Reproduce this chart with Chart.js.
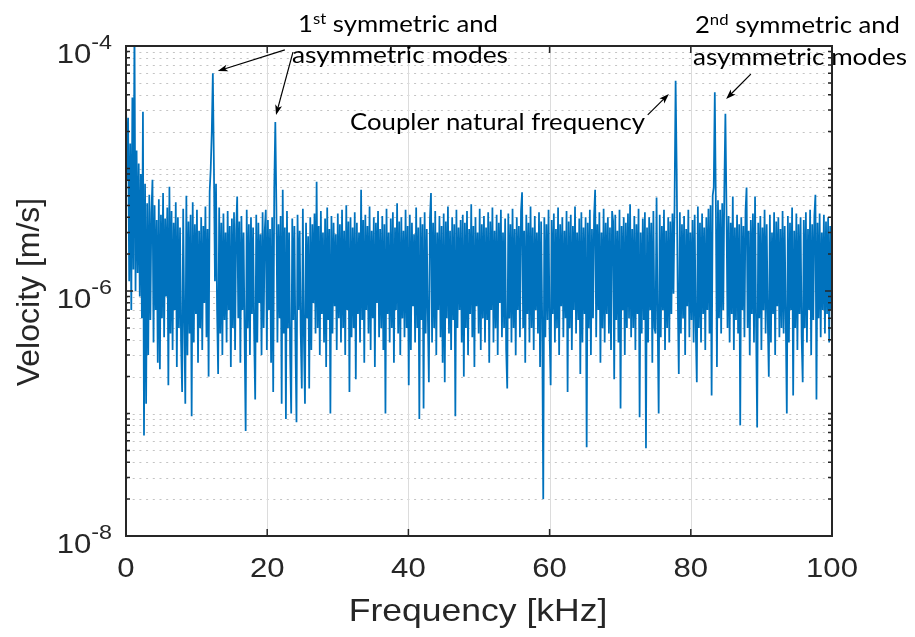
<!DOCTYPE html>
<html>
<head>
<meta charset="utf-8">
<script src="https://cdn.jsdelivr.net/npm/chart.js@4.4.1/dist/chart.umd.min.js"></script>
<style>
  html, body { margin: 0; padding: 0; background: #fff; }
  canvas { display: block; }
</style>
</head>
<body>
<canvas id="spectrum" width="915" height="637"></canvas>
<script>
// FFT bin spacing (kHz)
const freqStepKHz = 0.15;

// velocity amplitude per bin in um/s (20 bins = 3 kHz per row)
const vel_0_15 = [
  35, 8, 26, 1.2, 16, 0.7, 38, 1.5, 150, 1.0, 14, 1.4, 11, 0.9, 9, 0.6, 29, 0.066, 7.5, 0.12,
  5.2, 0.3, 6.1, 0.58, 4.4, 8.1, 0.38, 5.0, 0.7, 3.8, 0.26, 5.6, 0.23, 4.2, 0.6, 6.3, 0.42, 3.9, 0.9, 4.8,
  0.17, 7.1, 0.45, 4.5, 0.33, 3.6, 0.7, 5.3, 0.24, 4.0, 0.5, 3.3, 0.38, 0.15, 4.7, 0.6, 0.12, 6.0, 0.3, 3.7,
  0.45, 4.2, 0.095, 5.3, 0.38, 3.5, 0.65, 4.6, 0.26, 3.1, 0.5, 4.0, 0.33, 3.4, 0.8, 4.9, 0.42, 3.2, 0.2, 6.5,
  10, 20, 60, 11, 1.2, 7.5, 0.7, 0.21, 4.8, 0.45, 3.6, 0.3, 4.3, 0.58, 3.0, 0.38, 4.5, 0.7, 3.4, 0.24
];
const vel_15_30 = [
  3.9, 0.5, 4.4, 0.33, 3.2, 5.9, 0.6, 3.7, 0.26, 4.1, 0.7, 3.0, 0.42, 0.072, 4.6, 0.5, 3.5, 0.3, 4.0, 0.65,
  3.3, 0.45, 0.13, 4.2, 0.38, 3.6, 0.8, 2.9, 0.3, 4.4, 0.5, 3.1, 4.6, 0.33, 3.8, 0.7, 3.2, 0.26, 4.0, 0.15,
  7, 24, 5, 0.38, 3.5, 0.6, 4.1, 0.12, 6.7, 0.45, 3.3, 0.09, 4.5, 0.5, 3.0, 0.3, 0.10, 3.9, 0.58, 3.4,
  0.38, 0.085, 4.2, 0.7, 3.1, 0.45, 0.16, 4.7, 0.42, 0.12, 3.6, 0.6, 2.8, 0.16, 4.0, 0.33, 3.5, 0.8, 4.3, 0.45,
  7.8, 0.5, 3.4, 0.3, 4.5, 0.65, 3.0, 0.38, 3.9, 0.24, 4.8, 0.58, 3.2, 0.10, 4.1, 0.45, 3.6, 0.75, 2.9, 0.33
];
const vel_30_45 = [
  4.3, 0.6, 3.5, 0.38, 4.6, 0.5, 3.1, 0.3, 5.0, 0.7, 3.7, 0.15, 4.0, 0.42, 3.3, 0.5, 4.4, 0.19, 3.6, 0.65,
  3.0, 0.38, 6.7, 0.58, 3.8, 0.26, 4.2, 0.7, 3.4, 0.45, 4.9, 0.33, 3.1, 0.6, 4.0, 0.24, 3.6, 0.8, 4.5, 0.42,
  3.2, 0.5, 4.1, 0.33, 3.5, 0.10, 4.7, 0.65, 3.0, 0.38, 3.9, 0.5, 4.4, 0.26, 3.3, 0.7, 5.2, 0.45, 3.7, 0.3,
  4.0, 0.6, 3.1, 0.42, 4.6, 0.5, 3.4, 0.17, 4.2, 0.33, 3.6, 0.75, 2.9, 0.38, 4.8, 0.5, 3.3, 0.09, 4.0, 0.58,
  3.5, 0.11, 4.4, 0.45, 3.2, 0.65, 0.18, 3.9, 6.3, 0.38, 3.6, 0.5, 4.5, 0.3, 3.0, 0.7, 4.1, 0.42, 3.4, 0.26
];
const vel_45_60 = [
  4.3, 0.18, 3.7, 0.6, 4.9, 0.45, 3.1, 0.33, 4.0, 0.58, 3.5, 0.095, 4.6, 0.5, 3.3, 0.7, 3.8, 0.38, 4.2, 0.2,
  3.6, 0.5, 4.5, 0.3, 3.2, 0.65, 5.1, 0.42, 3.4, 0.24, 4.0, 0.75, 3.0, 0.45, 4.7, 0.33, 3.5, 0.6, 4.1, 0.38,
  3.3, 0.58, 4.4, 0.26, 3.7, 0.7, 4.8, 0.38, 3.1, 0.5, 4.2, 0.3, 3.6, 0.8, 4.6, 0.42, 3.0, 0.5, 3.9, 0.33,
  0.16, 4.3, 0.6, 3.5, 0.38, 4.7, 0.5, 3.2, 0.3, 4.0, 0.7, 3.4, 0.42, 4.5, 6.4, 0.5, 3.1, 0.26, 4.2, 0.65,
  3.6, 0.38, 4.9, 0.5, 3.3, 0.33, 4.1, 0.7, 3.0, 0.45, 4.4, 0.24, 3.7, 0.6, 0.02, 4.0, 0.42, 3.5, 0.58, 4.6
];
const vel_60_75 = [
  0.45, 0.17, 3.8, 0.65, 4.3, 0.38, 3.2, 0.5, 4.8, 0.3, 3.5, 0.75, 4.0, 0.42, 3.1, 0.6, 4.5, 0.15, 3.7, 0.5,
  4.2, 0.33, 3.4, 0.7, 4.9, 0.45, 3.0, 0.58, 3.9, 0.21, 4.4, 0.38, 3.3, 0.65, 4.0, 0.053, 3.6, 0.5, 4.6, 0.3,
  3.2, 0.6, 4.1, 6.7, 0.42, 3.5, 0.7, 4.4, 0.26, 3.0, 0.5, 4.7, 0.38, 3.6, 0.65, 4.0, 0.45, 3.3, 0.33, 4.5,
  3.7, 0.19, 4.2, 0.58, 3.1, 0.38, 4.6, 0.11, 3.4, 0.7, 4.0, 0.3, 3.6, 0.5, 4.3, 0.6, 5.1, 0.42, 3.2, 0.5,
  4.1, 0.33, 3.5, 0.65, 4.7, 0.093, 3.0, 0.45, 3.9, 0.58, 4.4, 0.052, 3.3, 0.38, 4.0, 0.7, 3.6, 0.26, 4.5, 0.5
];
const vel_75_90 = [
  0.45, 5.8, 0.6, 0.10, 4.2, 0.42, 3.4, 0.7, 4.6, 0.33, 3.1, 0.5, 4.0, 0.38, 3.7, 0.65, 4.3, 0.95, 5.2, 52,
  9.7, 0.9, 0.21, 4.4, 0.45, 3.5, 0.6, 4.1, 0.3, 3.2, 0.75, 4.6, 0.42, 3.0, 0.58, 3.8, 0.38, 4.2, 0.5, 0.18,
  4.9, 0.5, 3.6, 0.38, 4.3, 0.65, 3.3, 0.33, 4.0, 0.7, 4.7, 0.45, 5.0, 0.14, 6.0, 7.0, 42, 5.0, 0.24, 5.5,
  0.6, 4.6, 0.45, 5.2, 0.7, 7.0, 28, 5.0, 0.5, 4.1, 0.38, 3.6, 0.65, 5.9, 0.33, 3.3, 0.58, 4.2, 0.45, 3.5,
  0.08, 4.0, 0.7, 3.4, 0.42, 4.5, 7.0, 0.5, 3.1, 0.3, 3.8, 0.65, 4.3, 0.38, 5.9, 0.5, 0.077, 3.6, 0.6, 4.1
];
const vel_90_100 = [
  0.33, 3.3, 0.7, 4.6, 0.45, 3.5, 0.58, 0.2, 4.2, 0.38, 3.0, 0.65, 4.4, 0.3, 3.7, 0.75, 4.0, 0.42, 3.2, 0.5,
  4.5, 0.45, 3.4, 0.6, 0.1, 4.1, 0.38, 3.6, 0.7, 4.8, 0.14, 3.1, 0.5, 4.3, 0.33, 3.5, 0.65, 4.0, 0.42, 0.18,
  3.8, 0.5, 4.4, 0.38, 3.2, 0.7, 4.6, 0.3, 3.5, 0.58, 4.1, 6.1, 0.13, 3.6, 0.6, 4.3, 0.42, 3.0, 0.7, 4.2,
  0.45, 3.7, 0.65, 4.0, 0.38, 3.4, 0.7, 3.6
];

// axis ticks
const xTicks = [0, 20, 40, 60, 80, 100];
const yMajorTicks = [1e-8, 1e-6, 1e-4];
const yMinorMult = [2, 3, 4, 5, 6, 7, 8, 9];

const velUm = [].concat(vel_0_15, vel_15_30, vel_30_45, vel_45_60, vel_60_75, vel_75_90, vel_90_100);
const points = velUm.map((v, i) => ({ x: i * freqStepKHz, y: v * 1e-6 }));

// annotations, anchored in data coords (kHz, m/s)
const noteTexts = [
  { parts: [['1', 0], ['st', 1], [' symmetric and', 0]], at: [24.36, 1.30e-4], width: 200 },
  { parts: [['asymmetric modes', 0]], at: [23.51, 7.26e-5], width: 216 },
  { parts: [['Coupler natural frequency', 0]], at: [31.73, 2.06e-5], width: 295 },
  { parts: [['2', 0], ['nd', 1], [' symmetric and', 0]], at: [80.59, 1.28e-4], width: 205 },
  { parts: [['asymmetric modes', 0]], at: [80.31, 7.0e-5], width: 214 }
];
const noteArrows = [
  { from: [22.5, 9.3e-5], to: [13.0, 6.25e-5] },
  { from: [23.65, 8.9e-5], to: [21.25, 2.74e-5] },
  { from: [73.9, 2.74e-5], to: [76.9, 4.06e-5] },
  { from: [88.5, 5.9e-5], to: [85.0, 3.69e-5] }
];

const STRETCH = 1.11;   // the original figure is a bit wider than tall
const AXIS_FONT = '"Liberation Sans", Arial, sans-serif';
const NOTE_FONT = 'Lato, "Open Sans", sans-serif';
const AXIS_COLOR = '#262626';

const stretchedText = (ctx, text, x, y, font, align) => {
    ctx.save();
    ctx.font = font;
    const w = ctx.measureText(text).width * STRETCH;
    const left = align === 'center' ? x - w / 2 : align === 'right' ? x - w : x;
    ctx.translate(left, y);
    ctx.scale(STRETCH, 1);
    ctx.textAlign = 'left';
    ctx.textBaseline = 'alphabetic';
    ctx.fillText(text, 0, 0);
    ctx.restore();
    return w;
}

const drawRich = (ctx, parts, x, y, width) => {
    const fonts = parts.map(p => p[1] ? '15px ' + NOTE_FONT : '23px ' + NOTE_FONT);
    let natural = 0;
    const ws = parts.map((p, k) => {
        ctx.font = fonts[k];
        const w = ctx.measureText(p[0]).width;
        natural += w;
        return w;
    });
    ctx.save();
    ctx.translate(x, y);
    ctx.scale(width / natural, 1);
    ctx.textBaseline = 'alphabetic';
    let cx = 0;
    parts.forEach((p, k) => {
        ctx.font = fonts[k];
        ctx.fillText(p[0], cx, p[1] ? -8 : 0);
        cx += ws[k];
    });
    ctx.restore();
}

const drawArrow = (ctx, x1, y1, x2, y2) => {
    const ang = Math.atan2(y2 - y1, x2 - x1);
    const len = 10, half = 3.5;
    const c = Math.cos(ang), s = Math.sin(ang);
    const bx = x2 - len * c, by = y2 - len * s;
    ctx.beginPath();
    ctx.moveTo(x1, y1);
    ctx.lineTo(x2 - 6 * c, y2 - 6 * s);
    ctx.stroke();
    ctx.beginPath();
    ctx.moveTo(x2, y2);
    ctx.lineTo(bx + half * s, by - half * c);
    ctx.lineTo(x2 - 0.75 * len * c, y2 - 0.75 * len * s);
    ctx.lineTo(bx - half * s, by + half * c);
    ctx.closePath();
    ctx.fill();
}

const minorValues = () => {
    const out = [];
    for (let d = -8; d < -4; d++) {
        if (d % 2 !== 0) out.push(Math.pow(10, d));   // 1e-7, 1e-5 have no label
        yMinorMult.forEach(m => out.push(m * Math.pow(10, d)));
    }
    return out;
}

// MATLAB-style box, grid, ticks and labels
const matlabAxes = {
    id: 'matlabAxes',
    beforeDatasetsDraw(chart) {
        const { ctx, chartArea: a, scales: { x, y } } = chart;
        ctx.save();
        ctx.lineWidth = 1;
        ctx.strokeStyle = '#c4c4c4';
        ctx.setLineDash([2, 4.7]);
        minorValues().forEach(v => {
            const py = Math.round(y.getPixelForValue(v)) + 0.5;
            ctx.beginPath();
            ctx.moveTo(a.left, py);
            ctx.lineTo(a.right, py);
            ctx.stroke();
        });
        ctx.setLineDash([]);
        ctx.strokeStyle = '#dcdcdc';
        xTicks.slice(1, -1).forEach(v => {
            const px = Math.round(x.getPixelForValue(v)) + 0.5;
            ctx.beginPath();
            ctx.moveTo(px, a.top);
            ctx.lineTo(px, a.bottom);
            ctx.stroke();
        });
        yMajorTicks.slice(1, -1).forEach(v => {
            const py = Math.round(y.getPixelForValue(v)) + 0.5;
            ctx.beginPath();
            ctx.moveTo(a.left, py);
            ctx.lineTo(a.right, py);
            ctx.stroke();
        });
        ctx.restore();
    },
    afterDatasetsDraw(chart) {
        const { ctx, chartArea: a, scales: { x, y } } = chart;
        ctx.save();
        ctx.strokeStyle = AXIS_COLOR;
        ctx.fillStyle = AXIS_COLOR;

        // ticks (inside)
        ctx.lineWidth = 1.5;
        const yTick = (v, len) => {
            const py = y.getPixelForValue(v);
            ctx.beginPath();
            ctx.moveTo(a.left, py); ctx.lineTo(a.left + len, py);
            ctx.moveTo(a.right, py); ctx.lineTo(a.right - len, py);
            ctx.stroke();
        };
        minorValues().forEach(v => yTick(v, 4));
        yMajorTicks.forEach(v => yTick(v, 7));
        xTicks.forEach(v => {
            const px = x.getPixelForValue(v);
            ctx.beginPath();
            ctx.moveTo(px, a.bottom); ctx.lineTo(px, a.bottom - 7);
            ctx.moveTo(px, a.top); ctx.lineTo(px, a.top + 7);
            ctx.stroke();
        });

        // box
        ctx.lineWidth = 2;
        ctx.strokeRect(a.left, a.top, a.right - a.left, a.bottom - a.top);

        // tick labels
        xTicks.forEach(v => {
            stretchedText(ctx, String(v), x.getPixelForValue(v), a.bottom + 41, '28px ' + AXIS_FONT, 'center');
        });
        yMajorTicks.forEach(v => {
            const py = y.getPixelForValue(v);
            const exp = String(Math.round(Math.log10(v)));
            ctx.font = '21px ' + AXIS_FONT;
            const wExp = ctx.measureText(exp).width * STRETCH;
            ctx.font = '28px ' + AXIS_FONT;
            const wBase = ctx.measureText('10').width * STRETCH;
            const right = a.left - 14;
            stretchedText(ctx, '10', right - wExp - wBase, py + 17, '28px ' + AXIS_FONT, 'left');
            stretchedText(ctx, exp, right - wExp, py + 3, '21px ' + AXIS_FONT, 'left');
        });

        // axis titles
        stretchedText(ctx, 'Frequency [kHz]', (a.left + a.right) / 2 - 1, a.bottom + 85, '32px ' + AXIS_FONT, 'center');
        ctx.save();
        ctx.translate(39, (a.top + a.bottom) / 2 + 1);
        ctx.rotate(-Math.PI / 2);
        ctx.font = '32px ' + AXIS_FONT;
        ctx.textAlign = 'center';
        ctx.fillText('Velocity [m/s]', 0, 0);
        ctx.restore();

        // annotations
        ctx.fillStyle = '#000';
        ctx.strokeStyle = '#000';
        ctx.lineWidth = 1.2;
        noteArrows.forEach(n => {
            drawArrow(ctx,
                x.getPixelForValue(n.from[0]), y.getPixelForValue(n.from[1]),
                x.getPixelForValue(n.to[0]), y.getPixelForValue(n.to[1]));
        });
        noteTexts.forEach(n => {
            drawRich(ctx, n.parts, x.getPixelForValue(n.at[0]), y.getPixelForValue(n.at[1]), n.width);
        });
        ctx.restore();
    }
};

new Chart(document.getElementById('spectrum'), {
    type: 'line',
    data: {
        datasets: [{
            data: points,
            borderColor: '#0072BD',
            borderWidth: 1.75,
            pointRadius: 0,
            tension: 0,
            fill: false
        }]
    },
    options: {
        responsive: false,
        animation: false,
        devicePixelRatio: 1,
        parsing: false,
        normalized: true,
        layout: { padding: { left: 126, top: 46, right: 83, bottom: 101 } },
        plugins: { legend: { display: false }, tooltip: { enabled: false } },
        scales: {
            x: { type: 'linear', min: 0, max: 100, display: false },
            y: { type: 'logarithmic', min: 1e-8, max: 1e-4, display: false }
        }
    },
    plugins: [matlabAxes]
});
</script>
</body>
</html>
